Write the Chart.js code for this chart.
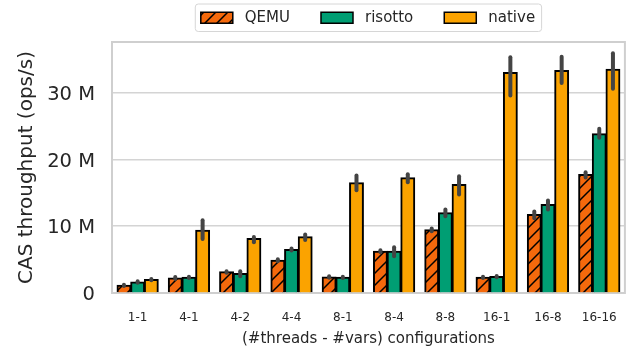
<!DOCTYPE html>
<html lang="en">
<head>
  <meta charset="UTF-8">
  <title>CAS throughput</title>
  <script src="https://cdn.jsdelivr.net/npm/chart.js"></script>
  <style>
    html, body { margin: 0; padding: 0; background: #fff; }
    #wrap { width: 635px; height: 349px; }
  </style>
</head>
<body>
  <div id="wrap"><canvas id="myChart" width="635" height="349"></canvas></div>

  <script>
    // categories: (#threads - #vars)
    const configs = ['1-1', '4-1', '4-2', '4-4', '8-1', '8-4', '8-8', '16-1', '16-8', '16-16'];

    // mean throughput, millions of ops/s
    const qemu    = [1.14, 2.25, 3.15, 4.9, 2.4, 6.25, 9.45, 2.35, 11.75, 17.75];
    const risotto = [1.65, 2.35, 2.9, 6.5, 2.35, 6.25, 12.0, 2.45, 13.25, 23.85];
    const native  = [2.0, 9.4, 8.14, 8.4, 16.5, 17.25, 16.25, 33.0, 33.3, 33.5];

    // error bar ranges (low / high), millions of ops/s
    const qemuLo    = [1.05, 2.1, 3.05, 4.75, 2.3, 6.1, 9.25, 2.25, 11.2, 17.3];
    const qemuHi    = [1.25, 2.4, 3.25, 5.05, 2.5, 6.4, 9.65, 2.45, 12.2, 18.1];
    const risottoLo = [1.55, 2.25, 2.5, 6.35, 2.25, 5.5, 11.5, 2.35, 12.5, 23.25];
    const risottoHi = [1.75, 2.45, 3.25, 6.65, 2.45, 6.85, 12.5, 2.55, 13.85, 24.6];
    const nativeLo  = [1.9, 8.1, 7.6, 7.95, 15.4, 16.6, 14.75, 29.6, 31.45, 30.6];
    const nativeHi  = [2.1, 10.9, 8.4, 8.75, 17.6, 17.8, 17.5, 35.3, 35.4, 35.9];

    const yTicks = [0, 10, 20, 30];

    const M = 1e6;
    const toOps = arr => arr.map(v => v * M);

    // hatched fill for QEMU bars
    function makeHatch(color) {
      const size = 12;
      const c = document.createElement('canvas');
      c.width = size; c.height = size;
      const g = c.getContext('2d');
      g.fillStyle = color;
      g.fillRect(0, 0, size, size);
      g.strokeStyle = '#000';
      g.lineWidth = 1.5;
      g.beginPath();
      g.moveTo(0, size); g.lineTo(size, 0);
      g.moveTo(-2, 2); g.lineTo(2, -2);
      g.moveTo(size - 2, size + 2); g.lineTo(size + 2, size - 2);
      g.stroke();
      return g.createPattern(c, 'repeat');
    }

    const hatch = makeHatch('#f4690c');

    const errors = [
      { lo: qemuLo, hi: qemuHi },
      { lo: risottoLo, hi: risottoHi },
      { lo: nativeLo, hi: nativeHi }
    ];

    // plot frame (seaborn style)
    const frame = {
      id: 'frame',
      beforeDatasetsDraw(chart) {
        const { ctx, chartArea: a } = chart;
        ctx.save();
        ctx.strokeStyle = '#cfcfcf';
        ctx.lineWidth = 2;
        ctx.strokeRect(a.left, a.top, a.right - a.left, a.bottom - a.top);
        ctx.restore();
      }
    };

    // error bars, drawn from the bar elements and the y scale
    const errorBars = {
      id: 'errorBars',
      afterDatasetsDraw(chart) {
        const { ctx } = chart;
        const y = chart.scales.y;
        ctx.save();
        ctx.strokeStyle = '#444444';
        ctx.lineWidth = 4;
        ctx.lineCap = 'round';
        errors.forEach((e, i) => {
          chart.getDatasetMeta(i).data.forEach((bar, j) => {
            ctx.beginPath();
            ctx.moveTo(bar.x, y.getPixelForValue(e.lo[j] * M));
            ctx.lineTo(bar.x, y.getPixelForValue(e.hi[j] * M));
            ctx.stroke();
          });
        });
        ctx.restore();
      }
    };

    // boxed legend above the plot
    const boxLegend = {
      id: 'boxLegend',
      afterDraw(chart) {
        const { ctx, chartArea: a } = chart;
        const sets = chart.data.datasets;
        ctx.save();
        ctx.font = '15px "DejaVu Sans"';
        const sw = 32, sh = 11, gapText = 12, gapItem = 31, padL = 5.5, padR = 6.5;
        let total = 0;
        sets.forEach((d, i) => {
          total += sw + gapText + ctx.measureText(d.label).width;
          if (i < sets.length - 1) total += gapItem;
        });
        const boxW = total + padL + padR;
        const cx = (a.left + a.right) / 2;
        const bx = cx - boxW / 2, by = 4, bh = 27.5;
        ctx.beginPath();
        ctx.roundRect(bx, by, boxW, bh, 3);
        ctx.fillStyle = 'rgba(255,255,255,0.85)';
        ctx.fill();
        ctx.strokeStyle = '#d6d6d6';
        ctx.lineWidth = 1;
        ctx.stroke();
        let x = bx + padL;
        const midY = by + bh / 2;
        sets.forEach(d => {
          ctx.fillStyle = d.backgroundColor;
          ctx.fillRect(x, midY - sh / 2, sw, sh);
          ctx.strokeStyle = '#000';
          ctx.lineWidth = 1.5;
          ctx.strokeRect(x, midY - sh / 2, sw, sh);
          x += sw + gapText;
          ctx.fillStyle = '#262626';
          ctx.textBaseline = 'middle';
          ctx.fillText(d.label, x, midY);
          x += ctx.measureText(d.label).width + gapItem;
        });
        ctx.restore();
      }
    };

    const ctx = document.getElementById('myChart').getContext('2d');

    const myChart = new Chart(ctx, {
      type: 'bar',
      data: {
        labels: configs,
        datasets: [
          { label: 'QEMU', data: toOps(qemu), backgroundColor: hatch },
          { label: 'risotto', data: toOps(risotto), backgroundColor: '#009e73' },
          { label: 'native', data: toOps(native), backgroundColor: '#fba300' }
        ]
      },
      options: {
        responsive: false,
        animation: false,
        layout: { padding: { top: 42, right: 6, left: 0, bottom: 0 } },
        datasets: {
          bar: {
            borderColor: '#000',
            borderWidth: 2,
            inflateAmount: 0.6,
            barPercentage: 1.0,
            categoryPercentage: 0.8
          }
        },
        plugins: {
          legend: { display: false },
          tooltip: { enabled: false }
        },
        scales: {
          x: {
            grid: { display: false, drawTicks: false },
            border: { display: false },
            ticks: {
              color: '#262626',
              font: { family: 'DejaVu Sans', size: 12 },
              padding: 18
            },
            title: {
              display: true,
              text: '(#threads - #vars) configurations',
              color: '#262626',
              font: { family: 'DejaVu Sans', size: 15 },
              padding: { top: 0, bottom: 1 }
            },
            afterFit(scale) { scale.height = 56; }
          },
          y: {
            min: 0,
            max: 37.6 * M,
            grid: { color: '#d4d4d4', lineWidth: 1.5, drawTicks: false },
            border: { display: false },
            afterBuildTicks(scale) {
              scale.ticks = yTicks.map(v => ({ value: v * M }));
            },
            ticks: {
              color: '#262626',
              font: { family: 'DejaVu Sans', size: 19.5 },
              padding: 17,
              labelOffset: 2,
              callback: v => v === 0 ? '0' : (v / M) + ' M'
            },
            title: {
              display: true,
              text: 'CAS throughput (ops/s)',
              color: '#262626',
              font: { family: 'DejaVu Sans', size: 20 },
              padding: { top: 15, bottom: 0 }
            },
            afterFit(scale) { scale.width = 112; }
          }
        }
      },
      plugins: [frame, errorBars, boxLegend]
    });
  </script>
</body>
</html>
